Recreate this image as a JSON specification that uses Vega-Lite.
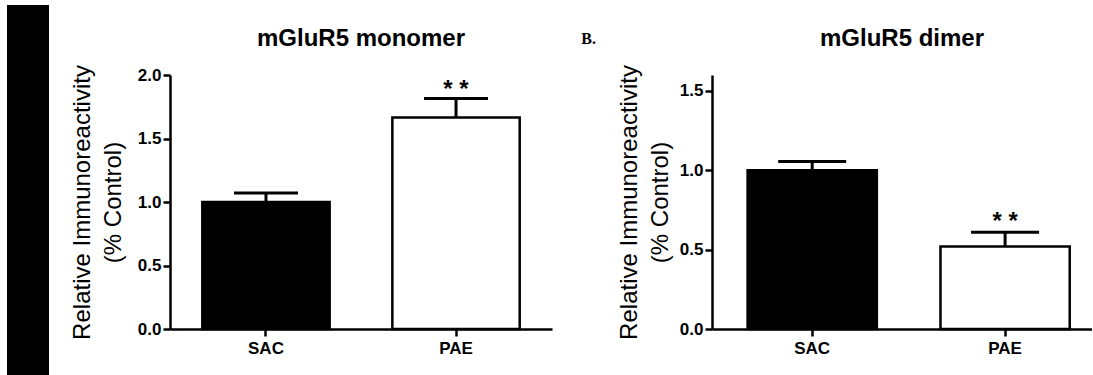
{
  "$schema": "https://vega.github.io/schema/vega-lite/v6.json",
  "background": "white",
  "padding": {"left": 7, "top": 5, "right": 0, "bottom": 0},
  "spacing": 21,
  "config": {
    "view": {"stroke": null},
    "font": "Liberation Sans",
    "axis": {
      "grid": false,
      "domainColor": "black",
      "domainWidth": 2.5,
      "tickColor": "black",
      "tickWidth": 2.5,
      "tickSize": 7,
      "labelFont": "Liberation Sans",
      "labelFontWeight": "bold",
      "labelFontSize": 17,
      "labelColor": "black",
      "titleFont": "Liberation Sans",
      "titleFontWeight": "normal",
      "titleFontSize": 24,
      "titleColor": "black",
      "titleLineHeight": 31
    },
    "axisX": {"labelPadding": 4, "labelAngle": 0},
    "axisY": {"labelPadding": 2, "titlePadding": 12},
    "title": {
      "font": "Liberation Sans",
      "fontSize": 24,
      "fontWeight": "bold",
      "color": "black",
      "anchor": "middle",
      "frame": "group",
      "orient": "bottom",
      "offset": 21
    }
  },
  "datasets": {
    "monomer": [
      {"group": "SAC", "value": 1.0, "upper": 1.07, "sig": ""},
      {"group": "PAE", "value": 1.665, "upper": 1.815, "sig": "* *"}
    ],
    "dimer": [
      {"group": "SAC", "value": 1.0, "upper": 1.055, "sig": ""},
      {"group": "PAE", "value": 0.52, "upper": 0.61, "sig": "* *"}
    ],
    "blank": [{}]
  },
  "hconcat": [
    {
      "width": 42,
      "height": 370,
      "view": {"fill": "black", "stroke": null},
      "data": {"name": "blank"},
      "mark": {"type": "text", "text": "", "fontSize": 0},
      "encoding": {}
    },
    {
      "spacing": 13,
      "vconcat": [
        {
          "width": 382,
          "height": 1,
          "title": {"text": "mGluR5 monomer"},
          "data": {"name": "blank"},
          "mark": {"type": "text", "text": "", "fontSize": 0},
          "encoding": {}
        },
        {
          "width": 382,
          "height": 254,
          "data": {"name": "monomer"},
          "encoding": {
            "x": {
              "field": "group",
              "type": "nominal",
              "sort": ["SAC", "PAE"],
              "scale": {"paddingInner": 0.33, "paddingOuter": 0.17},
              "axis": {"title": null}
            }
          },
          "layer": [
            {
              "mark": {"type": "bar", "stroke": "black", "strokeWidth": 2.5},
              "encoding": {
                "y": {
                  "field": "value",
                  "type": "quantitative",
                  "scale": {"domain": [0, 2]},
                  "axis": {
                    "values": [0, 0.5, 1, 1.5, 2],
                    "format": ".1f",
                    "title": ["Relative Immunoreactivity", "(% Control)"]
                  }
                },
                "fill": {
                  "field": "group",
                  "type": "nominal",
                  "scale": {"domain": ["SAC", "PAE"], "range": ["black", "white"]},
                  "legend": null
                }
              }
            },
            {
              "mark": {"type": "rule", "strokeWidth": 3, "color": "black"},
              "encoding": {
                "y": {"field": "value", "type": "quantitative"},
                "y2": {"field": "upper"}
              }
            },
            {
              "mark": {"type": "tick", "thickness": 3, "size": 64, "color": "black", "opacity": 1},
              "encoding": {"y": {"field": "upper", "type": "quantitative"}}
            },
            {
              "mark": {"type": "text", "fontSize": 24, "fontWeight": "bold", "baseline": "alphabetic", "align": "center", "color": "black", "dy": -1},
              "encoding": {
                "y": {"field": "upper", "type": "quantitative"},
                "text": {"field": "sig"}
              }
            }
          ]
        }
      ]
    },
    {
      "width": 23,
      "height": 1,
      "title": {
        "text": "B.",
        "anchor": "end",
        "font": "Liberation Serif",
        "fontSize": 16,
        "fontWeight": "bold",
        "offset": 25
      },
      "data": {"name": "blank"},
      "mark": {"type": "text", "text": "", "fontSize": 0},
      "encoding": {}
    },
    {
      "spacing": 13,
      "vconcat": [
        {
          "width": 380,
          "height": 1,
          "title": {"text": "mGluR5 dimer"},
          "data": {"name": "blank"},
          "mark": {"type": "text", "text": "", "fontSize": 0},
          "encoding": {}
        },
        {
          "width": 380,
          "height": 254,
          "data": {"name": "dimer"},
          "encoding": {
            "x": {
              "field": "group",
              "type": "nominal",
              "sort": ["SAC", "PAE"],
              "scale": {"paddingInner": 0.33, "paddingOuter": 0.15, "align": 0.615},
              "axis": {"title": null}
            }
          },
          "layer": [
            {
              "mark": {"type": "bar", "stroke": "black", "strokeWidth": 2.5},
              "encoding": {
                "y": {
                  "field": "value",
                  "type": "quantitative",
                  "scale": {"domain": [0, 1.5]},
                  "axis": {
                    "values": [0, 0.5, 1, 1.5],
                    "format": ".1f",
                    "titlePadding": 7,
                    "title": ["Relative Immunoreactivity", "(% Control)"]
                  }
                },
                "fill": {
                  "field": "group",
                  "type": "nominal",
                  "scale": {"domain": ["SAC", "PAE"], "range": ["black", "white"]},
                  "legend": null
                }
              }
            },
            {
              "mark": {"type": "rule", "strokeWidth": 3, "color": "black"},
              "encoding": {
                "y": {"field": "value", "type": "quantitative"},
                "y2": {"field": "upper"}
              }
            },
            {
              "mark": {"type": "tick", "thickness": 3, "size": 68, "color": "black", "opacity": 1},
              "encoding": {"y": {"field": "upper", "type": "quantitative"}}
            },
            {
              "mark": {"type": "text", "fontSize": 24, "fontWeight": "bold", "baseline": "alphabetic", "align": "center", "color": "black", "dy": -3},
              "encoding": {
                "y": {"field": "upper", "type": "quantitative"},
                "text": {"field": "sig"}
              }
            }
          ]
        }
      ]
    }
  ]
}
